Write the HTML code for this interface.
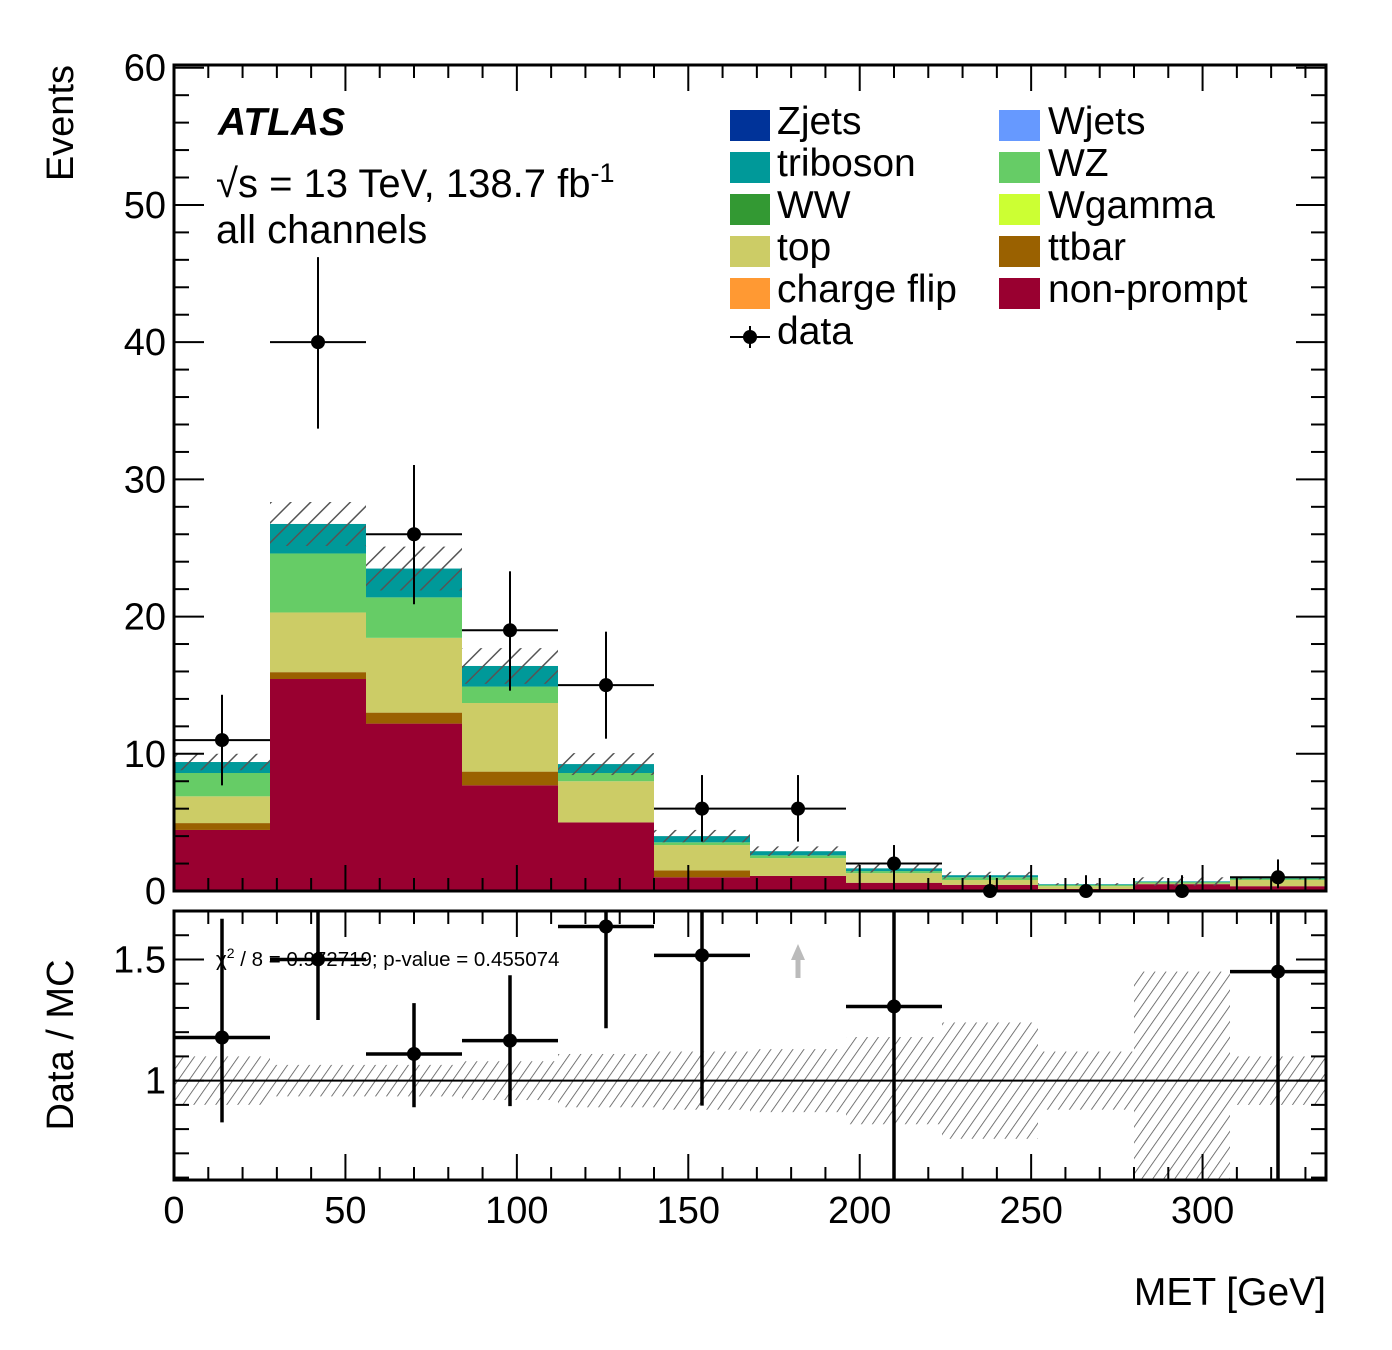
<!DOCTYPE html>
<html><head><meta charset="utf-8"><style>
html,body{margin:0;padding:0;background:#fff;}
svg{display:block;font-family:"Liberation Sans",Arial,sans-serif;}
</style></head><body>
<svg id="c" width="1392" height="1350" viewBox="0 0 1392 1350" xmlns="http://www.w3.org/2000/svg">
<defs>
<pattern id="hatchM" patternUnits="userSpaceOnUse" width="14" height="14" patternTransform="rotate(45)">
<line x1="0" y1="0" x2="0" y2="14" stroke="#555" stroke-width="3"/></pattern>
<pattern id="hatchR" patternUnits="userSpaceOnUse" width="9" height="9" patternTransform="rotate(35)">
<line x1="0" y1="0" x2="0" y2="9" stroke="#555" stroke-width="1.6"/></pattern>
</defs>
<g id="main"></g>
<g id="ratio"></g>
</svg>
<script>
const binEdges=[0,28,56,84,112,140,168,196,224,252,280,308,336];
const nonprompt=[4.45,15.45,12.2,7.7,5.0,1.0,1.1,0.6,0.45,0.15,0.5,0.35];
const ttbar=[0.5,0.5,0.8,1.0,0.0,0.5,0.0,0.0,0.0,0.0,0.0,0.0];
const top_=[1.95,4.35,5.45,5.0,3.0,1.85,1.3,0.7,0.35,0.2,0.05,0.45];
const wz=[1.7,4.3,2.95,1.2,0.6,0.2,0.2,0.15,0.2,0.1,0.1,0.1];
const triboson=[0.8,2.15,2.1,1.5,0.65,0.45,0.3,0.2,0.15,0.05,0.05,0.05];
const mcErr=[0.6,1.6,1.6,1.3,0.8,0.45,0.35,0.3,0.25,0.07,0.3,0.1];
const dataVals=[11,40,26,19,15,6,6,2,0,0,0,1];
const dataUp=[3.3,6.2,5.05,4.3,3.9,2.45,2.45,1.35,1.15,1.15,1.15,1.3];
const dataDn=[3.3,6.3,5.1,4.4,3.9,2.4,2.4,1.3,0,0,0,0.8];
const ratioVals=[1.178,1.5,1.11,1.165,1.636,1.517,null,1.306,null,null,null,1.45];
const ratioUp=[0.49,0.3,0.21,0.27,0.3,0.3,0,0.5,0,0,0,0.5];
const ratioDn=[0.35,0.25,0.22,0.27,0.42,0.62,0,0.75,0,0,0,0.9];
const ratioBand=[0.1,0.065,0.065,0.08,0.11,0.12,0.13,0.18,0.24,0.12,0.45,0.1];
const xTicks=[0,50,100,150,200,250,300];
const yTicks=[0,10,20,30,40,50,60];

const NS="http://www.w3.org/2000/svg";
const X0=174,X1=1326;
const xs=v=>X0+(v-0)*(X1-X0)/336;
const MY0=891,MY1=65;
const ys=v=>MY0-v*(MY0-MY1)/60.2;
const RY0=1180,RY1=911;
const rlo=0.59,rhi=1.70;
const ry=v=>RY0-(v-rlo)*(RY0-RY1)/(rhi-rlo);
function el(p,t,a){const e=document.createElementNS(NS,t);for(const k in a)e.setAttribute(k,a[k]);p.appendChild(e);return e;}
const M=document.getElementById('main'),R=document.getElementById('ratio');
const stack=[["nonprompt",nonprompt,"#990030"],["ttbar",ttbar,"#9a6100"],["top",top_,"#cccc66"],["wz",wz,"#66cc66"],["triboson",triboson,"#009999"]];
for(let i=0;i<12;i++){
  let base=0;const xa=xs(binEdges[i]),xb=xs(binEdges[i+1]);
  for(const [n,arr,col] of stack){
    const v=arr[i];if(v<=0)continue;
    const r=el(M,'rect',{x:xa,y:ys(base+v),width:xb-xa,height:ys(base)-ys(base+v),fill:col});
    
    
    base+=v;
  }
  const h=el(M,'rect',{x:xa,y:ys(base+mcErr[i]),width:xb-xa,height:ys(base-mcErr[i])-ys(base+mcErr[i]),fill:'url(#hatchM)'});
  
  
  const b=el(R,'rect',{x:xa,y:ry(1+ratioBand[i]),width:xb-xa,height:ry(Math.max(rlo,1-ratioBand[i]))-ry(1+ratioBand[i]),fill:'url(#hatchR)'});
  
  
}
function frame(g,yt,yb,name){
  const f=el(g,'rect',{x:X0,y:yt,width:X1-X0,height:yb-yt,fill:'none',stroke:'#000','stroke-width':3});
  
  for(let v=0;v<=336;v+=10){const maj=v%50==0;const L=maj?26:13;const x=xs(v);
    el(g,'line',{x1:x,y1:yb,x2:x,y2:yb-L,stroke:'#000','stroke-width':2});
    el(g,'line',{x1:x,y1:yt,x2:x,y2:yt+L,stroke:'#000','stroke-width':2});}
}
frame(M,MY1,MY0,'main-frame');
frame(R,RY1,RY0,'ratio-frame');
for(let v=0;v<=60;v+=2){const maj=v%10==0;const L=maj?30:15;const y=ys(v);
  el(M,'line',{x1:X0,y1:y,x2:X0+L,y2:y,stroke:'#000','stroke-width':2});
  el(M,'line',{x1:X1,y1:y,x2:X1-L,y2:y,stroke:'#000','stroke-width':2});}
for(const t of yTicks){const tx=el(M,'text',{x:166,y:ys(t)+13,'text-anchor':'end','font-size':38});tx.textContent=t;
  }
for(let k=6;k<=17;k++){const v=k/10;const maj=(k==10||k==15);const L=maj?30:15;const y=ry(v);
  el(R,'line',{x1:X0,y1:y,x2:X0+L,y2:y,stroke:'#000','stroke-width':2});
  el(R,'line',{x1:X1,y1:y,x2:X1-L,y2:y,stroke:'#000','stroke-width':2});}
[[1.5,'1.5'],[1,'1']].forEach(([v,s])=>{const tx=el(R,'text',{x:166,y:ry(v)+13,'text-anchor':'end','font-size':38});tx.textContent=s;
  });
for(const t of xTicks){const tx=el(R,'text',{x:xs(t),y:1223,'text-anchor':'middle','font-size':38});tx.textContent=t;
  }
el(R,'line',{x1:X0,y1:ry(1),x2:X1,y2:ry(1),stroke:'#000','stroke-width':2});
for(let i=0;i<12;i++){
  const xa=xs(binEdges[i]),xb=xs(binEdges[i+1]),xc=(xa+xb)/2,v=dataVals[i];
  const g=el(M,'g',{});
  
  
  el(g,'line',{x1:xa,y1:ys(v),x2:xb,y2:ys(v),stroke:'#000','stroke-width':2});
  el(g,'line',{x1:xc,y1:ys(v+dataUp[i]),x2:xc,y2:ys(Math.max(0,v-dataDn[i])),stroke:'#000','stroke-width':2});
  el(g,'circle',{cx:xc,cy:ys(v),r:7,fill:'#000'});
  const r=ratioVals[i];
  if(r!==null){
    const gr=el(R,'g',{});
    
    
    el(gr,'line',{x1:xa,y1:ry(r),x2:xb,y2:ry(r),stroke:'#000','stroke-width':3.5});
    el(gr,'line',{x1:xc,y1:Math.max(RY1,ry(r+ratioUp[i])),x2:xc,y2:Math.min(RY0,ry(r-ratioDn[i])),stroke:'#000','stroke-width':3.5});
    el(gr,'circle',{cx:xc,cy:ry(r),r:7,fill:'#000'});
  }
}
const ax=(xs(binEdges[6])+xs(binEdges[7]))/2;
const ar=el(R,'g',{});
el(ar,'line',{x1:ax,y1:978,x2:ax,y2:955,stroke:'#bbb','stroke-width':5});
el(ar,'polygon',{points:`${ax-7},960 ${ax+7},960 ${ax},944`,fill:'#bbb'});
</script>
<div style="position:absolute;left:0;top:0;width:1392px;height:1350px;pointer-events:none">
<svg width="1392" height="1350" style="font-family:'Liberation Sans',Arial,sans-serif">
<text x="218" y="135" font-size="39" font-weight="bold" font-style="italic">ATLAS</text>
<text x="216" y="197" font-size="40">√s = 13 TeV, 138.7 fb<tspan dy="-15" font-size="27">-1</tspan></text>
<text x="216" y="243" font-size="40">all channels</text>
<text transform="translate(73,65) rotate(-90)" text-anchor="end" font-size="38">Events</text>
<text transform="translate(73,1045) rotate(-90)" text-anchor="middle" font-size="38">Data / MC</text>
<text x="1326" y="1305" text-anchor="end" font-size="39">MET [GeV]</text>
<text x="216" y="966" font-size="20.5">χ<tspan dy="-8" font-size="14">2</tspan><tspan dy="8"> / 8 = 0.972719; p-value = 0.455074</tspan></text>
<g font-size="39">
<g><rect x="730" y="110" width="40" height="31" fill="#003399"/><text x="777" y="134">Zjets</text></g>
<g><rect x="730" y="152" width="40" height="31" fill="#009999"/><text x="777" y="176">triboson</text></g>
<g><rect x="730" y="194" width="40" height="31" fill="#339933"/><text x="777" y="218">WW</text></g>
<g><rect x="730" y="236" width="40" height="31" fill="#cccc66"/><text x="777" y="260">top</text></g>
<g><rect x="730" y="278" width="40" height="31" fill="#ff9933"/><text x="777" y="302">charge flip</text></g>
<g><line x1="730" y1="337" x2="770" y2="337" stroke="#000" stroke-width="2"/><line x1="750" y1="326" x2="750" y2="348" stroke="#000" stroke-width="2"/><circle cx="750" cy="337" r="7"/><text x="777" y="344">data</text></g>
<g><rect x="999" y="110" width="41" height="31" fill="#6699ff"/><text x="1048" y="134">Wjets</text></g>
<g><rect x="999" y="152" width="41" height="31" fill="#66cc66"/><text x="1048" y="176">WZ</text></g>
<g><rect x="999" y="194" width="41" height="31" fill="#ccff33"/><text x="1048" y="218">Wgamma</text></g>
<g><rect x="999" y="236" width="41" height="31" fill="#9a6100"/><text x="1048" y="260">ttbar</text></g>
<g><rect x="999" y="278" width="41" height="31" fill="#990030"/><text x="1048" y="302">non-prompt</text></g>
</g>
</svg>
</div>
</body></html>
